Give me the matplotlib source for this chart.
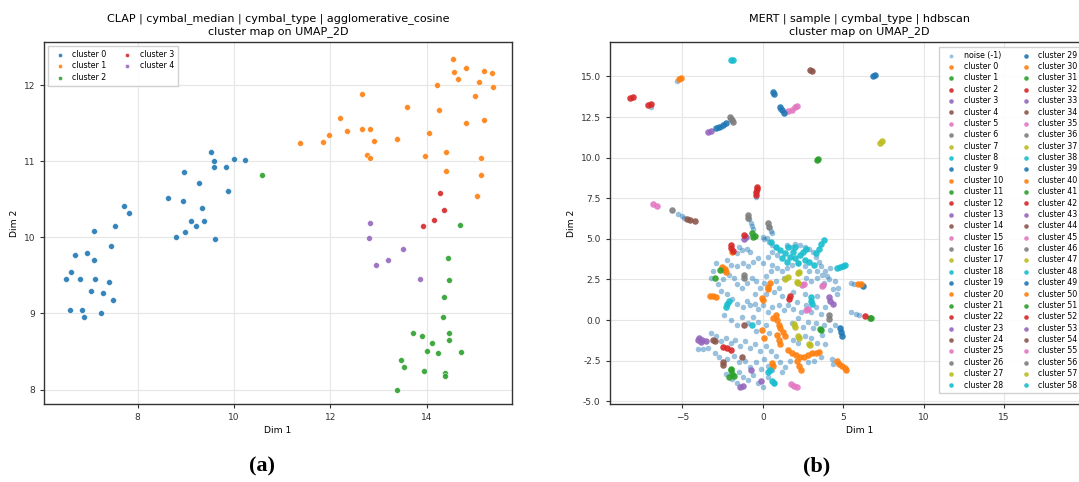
import matplotlib
matplotlib.use("Agg")
import matplotlib.pyplot as plt

# ---- panel (a): CLAP, agglomerative_cosine ----
clap_x = {
    0: [9.52, 9.58, 9.59, 9.83, 10.01, 10.24, 8.97, 9.28, 9.875, 8.63, 8.94, 9.33, 7.71, 7.82,
        9.12, 9.39, 9.21, 8.99, 8.80, 9.61, 7.10, 7.54, 7.46, 6.71, 6.96, 7.10, 6.63, 6.51,
        6.81, 7.12, 7.40, 7.04, 7.29, 7.49, 6.60, 6.84, 6.88, 7.25],
    1: [11.38, 11.85, 11.98, 12.21, 12.35, 12.65, 12.66, 12.82, 12.90, 12.76, 12.82, 13.375,
        13.59, 14.04, 13.96, 14.22, 14.26, 14.55, 14.56, 14.64, 14.81, 14.82, 14.40, 14.40,
        15.01, 15.09, 15.18, 15.35, 15.37, 15.19, 15.12, 15.13, 15.04],
    2: [10.58, 14.69, 14.45, 14.47, 14.35, 14.33, 13.71, 13.90, 14.46, 14.46, 14.11, 14.01,
        14.24, 14.71, 13.46, 13.53, 13.95, 14.37, 14.38, 13.375],
    3: [14.27, 14.35, 14.16, 13.92],
    4: [12.82, 12.81, 13.51, 13.20, 12.95, 13.86],
}
clap_y = {
    0: [11.13, 11.01, 10.92, 10.93, 11.03, 11.02, 10.86, 10.71, 10.61, 10.52, 10.48, 10.39,
        10.42, 10.32, 10.22, 10.22, 10.15, 10.07, 10.00, 9.98, 10.08, 10.15, 9.89, 9.77, 9.80,
        9.70, 9.54, 9.45, 9.45, 9.45, 9.41, 9.30, 9.27, 9.18, 9.04, 9.05, 8.96, 9.00],
    1: [11.24, 11.25, 11.35, 11.57, 11.40, 11.89, 11.43, 11.43, 11.27, 11.09, 11.04, 11.30,
        11.72, 11.37, 11.07, 12.01, 11.68, 12.35, 12.18, 12.09, 12.23, 11.51, 11.12, 10.87,
        11.86, 12.04, 12.19, 12.16, 11.98, 11.54, 11.04, 10.82, 10.54],
    2: [10.82, 10.16, 9.73, 9.44, 9.22, 8.95, 8.75, 8.70, 8.75, 8.65, 8.61, 8.51, 8.48, 8.50,
        8.39, 8.29, 8.24, 8.22, 8.18, 8.00],
    3: [10.58, 10.36, 10.23, 10.15],
    4: [10.19, 9.99, 9.85, 9.71, 9.64, 9.45],
}

# ---- panel (b): MERT, hdbscan ----
noise_x = [-5.36, -6.98, 1.1, -2.6, -5.3, -5.0, -4.9, -0.45,
           -0.85, -0.75, -0.65, -0.6, 0.4, 0.5, 0.6, 0.0, 0.1, 0.25,
           -1.5, -1.3, -1.0, -0.8, -1.6,
           -2.2, -2.0, -1.6, -1.2, -0.9, -0.6, -0.3, 0.0,
           0.4, 0.6, 0.8, 0.6, 0.9, 0.3, 0.6, 0.9, 0.5,
           1.5, 1.8, 2.0, 2.3, 2.6, 2.9, 3.1, 3.3, 3.5, 3.6, 3.9, 4.2, 4.0, 3.7, 3.4, 2.9,
           2.6, 2.2, 1.8, 1.5, 1.2, 1.3, 2.7, 3.0, 3.4, 3.8, 4.1, 4.5, 4.7, 4.6, 4.4,
           -2.9, -3.1, -3.2, -2.8, -2.5, -2.1, -1.8, -1.6, -1.3, -1.0, -0.7, -0.4, -0.2,
           0.1, 0.2, 0.8, 1.0, 0.7,
           -2.6, -2.2, -1.9, -1.6, -1.2, -1.0, -0.8, -0.5, -0.3, 0.0, 0.3, 0.6, 1.0, 1.3,
           1.6, 1.9, 2.1, 2.4, 2.7, 3.0, 3.3, 3.6, 3.9, 3.4, 2.6, 1.9, 1.2, 0.2, -0.5,
           5.5, 5.7, 5.5, 5.8, 6.0,
           -2.4, -2.0, -1.6, -1.3, -0.9, -0.6, -0.3, 0.2, -0.4, 0.4, 1.8, 2.2, 2.5, 2.8,
           3.1, 3.3, 3.8, 4.2, 4.5, 3.7, 3.0, 2.6, 2.2, 1.9, 3.4, 3.9,
           -3.2, -2.9, -2.6, -2.3, -2.0, -1.7, -1.4, -1.1, -0.8, -0.5, -0.2, 0.2, 0.5, 0.8,
           -4.0, -3.7, -3.4,
           -3.0, -2.7, -2.2, -1.8, -1.5, -1.1, -0.8, -0.4, -0.1, 0.1, 0.3, 1.1, 1.4, 1.7,
           1.2, 2.8, 3.2, 3.6, 4.3, 4.4,
           -2.3, -1.9, -1.5, -1.2, -0.6, -0.3, 0.3, 0.7, -1.6, -0.9, 0.6, 0.0]
noise_y = [14.71, 13.11, 13.0, 11.9, 6.5, 6.4, 6.3, 7.6,
           6.2, 6.0, 5.8, 5.6, 5.7, 5.5, 5.35, 5.1, 5.0, 5.05,
           4.5, 4.3, 4.4, 4.2, 4.1,
           3.7, 3.4, 3.3, 3.5, 3.3, 3.6, 3.8, 3.5,
           4.8, 4.6, 4.5, 4.2, 4.0, 3.9, 3.4, 3.2, 3.0,
           4.6, 4.5, 4.7, 4.6, 4.5, 4.4, 4.2, 3.9, 3.6, 3.3, 3.0, 3.2, 2.7, 2.8, 3.0, 3.0,
           3.3, 3.5, 3.4, 3.2, 3.0, 2.6, 2.6, 2.4, 2.6, 2.3, 2.5, 2.4, 2.0, 1.6, 1.9,
           3.5, 3.0, 2.6, 2.2, 2.5, 2.8, 2.6, 2.2, 2.0, 2.3, 2.6, 2.4, 2.0,
           2.3, 2.7, 2.4, 2.0, 1.7,
           1.8, 1.6, 1.3, 1.0, 0.8, 1.2, 0.9, 1.0, 0.7, 0.9, 0.5, 0.8, 0.9, 0.6,
           0.9, 0.7, 1.1, 0.5, 0.9, 0.5, 0.8, 0.4, 0.8, 1.5, 1.6, 1.7, 1.5, 1.6, 1.6,
           2.25, 2.2, 0.5, 0.4, 0.3,
           0.3, 0.0, -0.3, 0.2, -0.2, 0.2, -0.1, -0.3, -0.7, -0.8, -0.2, 0.1, -0.4, -0.1,
           -0.5, -0.2, -0.3, -0.6, -0.3, -0.9, -1.1, -1.0, -1.4, -1.2, -1.4, -1.5,
           -0.8, -1.0, -1.3, -1.1, -1.4, -1.2, -1.6, -1.3, -1.7, -1.5, -1.9, -1.6, -1.9, -2.2,
           -1.8, -1.8, -1.75,
           -2.0, -2.3, -2.4, -2.2, -2.6, -2.5, -2.9, -2.6, -3.0, -2.4, -2.8, -2.6, -2.9, -2.5,
           -3.2, -2.6, -2.5, -2.3, -2.4, -2.7,
           -3.3, -3.6, -3.2, -3.5, -3.4, -3.9, -3.5, -3.9, -3.9, -3.7, -3.1, -4.1]

mert_clusters = {
    0: [(-5.22, 14.86), (-5.10, 14.93)],
    1: [(3.35, 9.85), (3.45, 9.93)],
    2: [(-8.25, 13.66), (-8.05, 13.72)],
    3: [(-3.4, 11.58), (-3.2, 11.65)],
    4: [(2.95, 15.4), (3.08, 15.32)],
    5: [(1.6, 12.85), (1.8, 12.95), (2.0, 13.1), (2.15, 13.18)],
    6: [(-2.05, 12.5), (-1.9, 12.3), (-1.85, 12.2), (-2.0, 12.35)],
    7: [(7.28, 10.92), (7.4, 11.0)],
    8: [(-1.95, 16.0), (-1.88, 16.03)],
    9: [(6.88, 15.02), (7.0, 15.08)],
    10: [(-2.55, 3.25), (-2.4, 3.1), (-2.3, 2.95), (-2.35, 3.15), (-1.9, 4.2)],
    11: [(-0.7, 5.35), (-0.5, 5.2), (-0.6, 5.1)],
    12: [(-7.12, 13.25), (-6.95, 13.3)],
    13: [(-1.15, 5.0), (-1.05, 5.1)],
    14: [(-4.7, 6.2), (-4.55, 6.18)],
    15: [(-6.8, 7.12), (-6.6, 7.0)],
    16: [(-5.65, 6.76)],
    17: [(2.2, 2.9), (2.25, 2.95)],
    18: [(0.5, 4.8), (0.8, 4.5), (1.1, 4.3), (1.4, 4.1), (1.7, 3.9), (2.0, 3.8), (2.3, 4.0),
         (2.6, 3.7), (2.2, 3.5), (1.9, 4.2), (1.6, 4.5), (2.5, 4.2), (2.9, 3.6), (3.2, 3.4),
         (1.2, 3.8), (2.7, 4.4), (2.0, 4.5), (1.5, 3.6), (3.3, 4.1), (3.5, 4.4), (3.65, 4.7),
         (3.8, 4.9)],
    19: [(0.62, 14.02), (0.68, 13.92)],
    20: [(-3.3, 1.5), (-3.1, 1.45), (-2.9, 1.4)],
    21: [(-3.0, 2.6), (-2.65, 3.1)],
    22: [(-0.45, 7.7), (-0.42, 7.9), (-0.38, 8.05), (-0.35, 8.2)],
    23: [(4.1, 1.4), (4.2, 1.2), (4.35, 1.0)],
    24: [(-3.1, -1.25), (-2.95, -1.3)],
    25: [(2.45, 2.15), (2.55, 2.2)],
    26: [(-0.93, 6.45), (-0.9, 6.3)],
    27: [(1.4, 2.55), (1.55, 2.65)],
    28: [(4.6, 3.2), (4.8, 3.25), (5.0, 3.3), (5.1, 3.4)],
    29: [(1.05, 13.1), (1.2, 12.95), (1.35, 12.75)],
    30: [(0.45, 2.25), (0.35, 2.05), (0.3, 1.9), (-0.05, 1.35), (0.0, 1.25)],
    31: [(6.65, 0.12), (6.75, 0.1)],
    32: [(-2.0, 4.65), (-1.95, 4.45), (-1.85, 4.25)],
    33: [(-3.95, -1.1), (-3.75, -1.2), (-3.55, -1.3), (-3.85, -1.35), (-4.0, -1.25)],
    34: [(-1.17, -0.3)],
    35: [(3.7, 2.1), (3.75, 2.15)],
    36: [(0.3, 5.95), (0.4, 5.75)],
    37: [(2.15, 2.35), (2.2, 2.3)],
    38: [(2.98, 1.4), (3.0, 1.2), (3.05, 1.0)],
    39: [(-2.9, 11.82), (-2.7, 11.9), (-2.5, 12.0), (-2.3, 12.15)],
    40: [(0.65, 0.1), (0.8, 0.3), (0.9, 0.0), (1.0, -0.3), (1.1, -0.5), (1.25, -0.75),
         (1.4, -1.0), (0.9, -0.9), (1.0, -1.2), (1.05, -1.5), (-0.05, -0.6), (0.05, -1.1)],
    41: [(3.55, -0.57), (3.6, -0.6)],
    42: [(-2.5, -1.68), (-2.25, -1.75), (-2.0, -1.82)],
    43: [(-0.75, -3.05), (-0.1, -3.75)],
    44: [(-2.5, -2.6), (-2.45, -2.75)],
    45: [(1.75, -3.95), (1.95, -4.05), (2.15, -4.15)],
    46: [(-1.17, 2.8), (-1.15, 2.6)],
    47: [(1.95, -0.25), (2.0, -0.4), (2.2, -1.0), (2.25, -1.1)],
    48: [(-2.2, 1.0), (-2.1, 1.2), (-2.3, 0.8), (-0.7, -0.3)],
    49: [(4.8, -0.5), (4.85, -0.75), (4.9, -1.0), (6.25, 2.1)],
    50: [(1.55, -1.85), (1.8, -2.0), (2.05, -2.15), (2.3, -2.25), (2.55, -2.25), (2.8, -2.15),
         (3.05, -2.05), (3.3, -2.0), (3.5, -1.95), (2.1, -2.55), (2.25, -2.8), (2.4, -3.05),
         (4.6, -2.55), (4.75, -2.7), (4.95, -2.8), (5.1, -2.95), (5.2, -3.1), (0.55, -2.65),
         (0.65, -2.85), (5.95, 2.2), (6.1, 2.2)],
    51: [(-2.0, -3.1), (-1.9, -3.3), (-1.8, -3.45), (-2.1, -3.5), (-1.95, -3.0)],
    52: [(6.35, 0.22), (1.62, 1.3), (1.7, 1.45), (-1.15, 5.25)],
    53: [(-1.4, -4.1), (-1.25, -4.05)],
    54: [(-4.2, 6.12), (-1.3, -2.3)],
    55: [(2.7, 0.6), (2.8, 0.65)],
    56: [(4.1, 0.3), (4.15, 0.05)],
    57: [(2.85, -1.5), (2.95, -1.55)],
    58: [(0.35, -3.2), (0.45, -3.05), (0.55, -3.75), (0.7, -3.85)],
}

tab10 = plt.get_cmap("tab10").colors

W, H = 1079, 482
fig = plt.figure(figsize=(W / 100, H / 100), dpi=100)

def style(ax):
    ax.grid(True, color="#e6e6e6", linewidth=0.8)
    ax.set_axisbelow(True)
    for s in ax.spines.values():
        s.set_color("#333333")
        s.set_linewidth(1.0)
    ax.tick_params(labelsize=6.5, length=3, width=0.8, colors="#333333")
    ax.set_xlabel("Dim 1", fontsize=6.6, labelpad=3)
    ax.set_ylabel("Dim 2", fontsize=6.6, labelpad=3)

# left panel
ax1 = fig.add_axes([44 / W, 78 / H, 468 / W, 362 / H])
for k in clap_x:
    ax1.scatter(clap_x[k], clap_y[k], s=18, color=tab10[k], edgecolor="white",
                linewidth=0.4, alpha=0.9, label=f"cluster {k}")
ax1.set_xlim(6.06, 15.77)
ax1.set_ylim(7.81, 12.57)
ax1.set_xticks([8, 10, 12, 14])
ax1.set_yticks([8, 9, 10, 11, 12])
style(ax1)
ax1.set_title("CLAP | cymbal_median | cymbal_type | agglomerative_cosine\ncluster map on UMAP_2D",
              fontsize=8, linespacing=1.15)
ax1.legend(loc="upper left", ncol=2, fontsize=5.7, labelspacing=0.3, markerscale=0.7,
           handletextpad=0.6, columnspacing=1.6, borderpad=0.5, framealpha=0.9,
           edgecolor="#cccccc", fancybox=False)

# right panel (runs past the right edge of the figure, as in the source image)
ax2 = fig.add_axes([609.7 / W, 78 / H, 500 / W, 362 / H])
ax2.scatter(noise_x, noise_y, s=16, color=tab10[0], alpha=0.45, linewidth=0,
            label="noise (-1)")
for k, pts in mert_clusters.items():
    xs = [p[0] for p in pts]
    ys = [p[1] for p in pts]
    ax2.scatter(xs, ys, s=22, color=tab10[(k + 1) % 10], alpha=0.9, linewidth=0,
                label=f"cluster {k}")
ax2.set_xlim(-9.52, 21.58)
ax2.set_ylim(-5.17, 17.12)
ax2.set_xticks([-5, 0, 5, 10, 15])
ax2.set_yticks([-5.0, -2.5, 0.0, 2.5, 5.0, 7.5, 10.0, 12.5, 15.0])
ax2.yaxis.set_major_formatter(matplotlib.ticker.FormatStrFormatter("%.1f"))
style(ax2)
ax2.set_title("MERT | sample | cymbal_type | hdbscan\ncluster map on UMAP_2D",
              fontsize=8, linespacing=1.15)
ax2.legend(loc="upper left", bbox_to_anchor=((939 - 609.7) / 500, 1 - 4.7 / 362),
           borderaxespad=0, ncol=2, fontsize=5.7, labelspacing=0.3, markerscale=0.7,
           handletextpad=0.6, columnspacing=1.9, borderpad=0.5, framealpha=0.9,
           edgecolor="#cccccc", fancybox=False)

fig.text(262 / W, 1 - 466 / H, "(a)", ha="center", va="center", fontsize=16,
         fontweight="bold", family="Liberation Serif")
fig.text(817 / W, 1 - 466 / H, "(b)", ha="center", va="center", fontsize=16,
         fontweight="bold", family="Liberation Serif")

fig.savefig("out.png", dpi=100)
